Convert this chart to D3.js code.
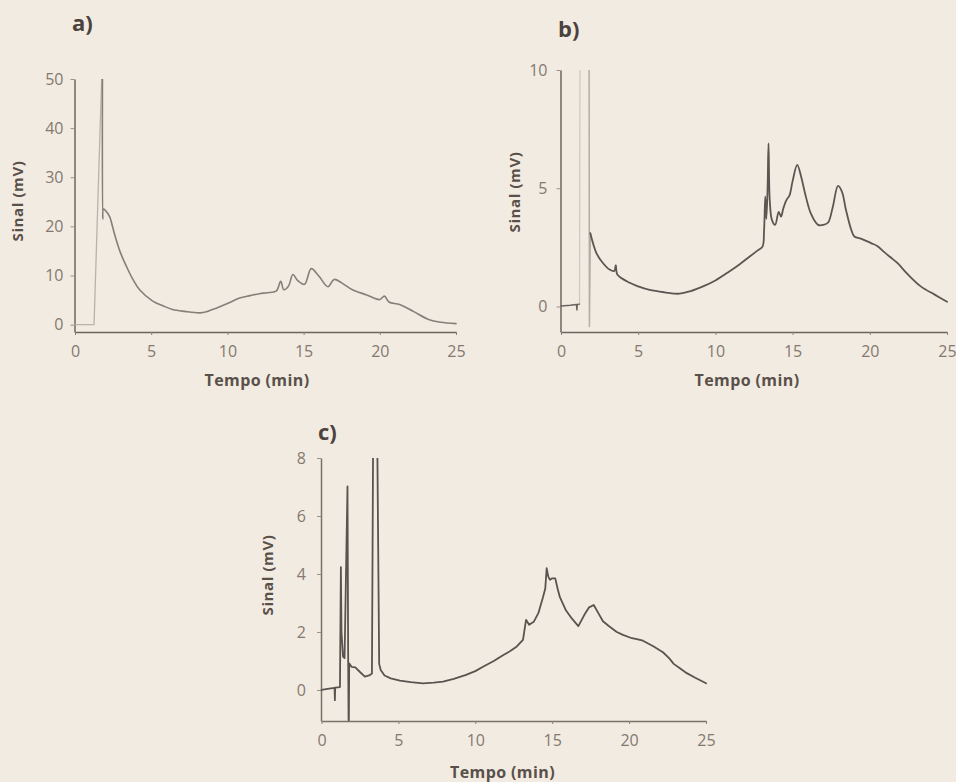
<!DOCTYPE html>
<html><head><meta charset="utf-8">
<script src="https://cdn.jsdelivr.net/npm/d3@7"></script>
<style>
html,body{margin:0;padding:0;background:#f2ebe1;}
svg{display:block;}
text{font-family:"Open Sans","Noto Sans",sans-serif;}
</style></head><body>
<svg id="chart" width="956" height="782"></svg>
<script>
// ---------- data ----------
const xTicks = [0, 5, 10, 15, 20, 25];
const aYTicks = [0, 10, 20, 30, 40, 50];
const bYTicks = [0, 5, 10];
const cYTicks = [0, 2, 4, 6, 8];

// panel a
const aSpikeTime   = [0, 1.25, 1.75];
const aSpikeSignal = [0, 0, 50];
const aTime   = [1.80, 1.82, 1.86, 2.0, 2.27, 2.5, 2.7, 3.0, 3.37, 3.8, 4.24, 5.1, 5.8, 6.4, 7.2, 8.2, 8.7, 9.3, 10.0, 10.8, 11.5, 12.1, 12.6, 13.2, 13.5, 13.7, 14.0, 14.3, 14.6, 15.06, 15.5, 16.0, 16.6, 17.0, 17.5, 18.2, 19.1, 20.0, 20.3, 20.6, 21.3, 22.2, 23.25, 24.0, 25.0];
const aSignal = [50, 21.5, 23.5, 23.2, 22.0, 19.5, 17.3, 14.5, 11.9, 9.2, 7.1, 4.8, 3.8, 3.1, 2.7, 2.4, 2.7, 3.4, 4.3, 5.4, 5.9, 6.3, 6.5, 6.8, 8.8, 7.1, 7.8, 10.2, 9.0, 8.2, 11.4, 9.9, 7.7, 9.2, 8.5, 7.1, 6.1, 5.1, 5.8, 4.6, 4.1, 2.7, 1.0, 0.5, 0.2];

// panel b
const bRiseTime   = [1.2, 1.23];
const bRiseSignal = [0.1, 10.5];
const bFallTime   = [1.82, 1.84, 1.9];
const bFallSignal = [10.5, -0.85, 3.1];
const bBaseTime   = [0, 0.6, 1.0, 1.03, 1.06, 1.2];
const bBaseSignal = [0.02, 0.05, 0.08, -0.15, 0.09, 0.1];
const bTime   = [1.9, 2.3, 2.7, 3.17, 3.45, 3.55, 3.65, 4.45, 5.0, 5.74, 6.7, 7.67, 8.4, 9.2, 10.0, 10.9, 11.6, 12.2, 12.7, 13.05, 13.15, 13.23, 13.3, 13.38, 13.44, 13.52, 13.66, 13.87, 14.1, 14.25, 14.4, 14.6, 14.8, 15.0, 15.3, 15.55, 15.8, 16.2, 16.65, 17.0, 17.3, 17.6, 17.94, 18.2, 18.45, 18.8, 19.0, 19.5, 20.08, 20.5, 20.9, 21.3, 21.8, 22.4, 23.3, 24.2, 25.0];
const bSignal = [3.1, 2.25, 1.85, 1.55, 1.5, 1.75, 1.35, 1.0, 0.85, 0.7, 0.6, 0.54, 0.65, 0.85, 1.1, 1.48, 1.8, 2.1, 2.35, 2.53, 3.2, 4.65, 3.7, 5.0, 6.9, 4.5, 3.66, 3.45, 4.0, 3.8, 4.15, 4.5, 4.7, 5.3, 5.99, 5.5, 4.8, 3.9, 3.45, 3.45, 3.55, 4.2, 5.1, 4.85, 4.1, 3.24, 2.96, 2.85, 2.68, 2.55, 2.32, 2.1, 1.83, 1.4, 0.85, 0.5, 0.2];

// panel c
const cTime   = [0, 0.5, 0.85, 0.87, 0.89, 1.2, 1.26, 1.3, 1.4, 1.5, 1.69, 1.73, 1.76, 1.78, 1.8, 1.95, 2.2, 2.5, 2.82, 3.1, 3.28, 3.36, 3.62, 3.75, 3.85, 4.1, 4.5, 5.1, 5.8, 6.6, 7.3, 7.9, 8.6, 9.4, 10.0, 10.5, 11.2, 11.8, 12.3, 12.7, 13.1, 13.3, 13.5, 13.8, 14.1, 14.4, 14.55, 14.64, 14.75, 14.86, 15.0, 15.2, 15.35, 15.5, 15.9, 16.3, 16.7, 17.1, 17.4, 17.7, 18.0, 18.3, 18.7, 19.2, 19.6, 20.1, 20.5, 20.9, 21.6, 22.2, 22.6, 22.9, 23.3, 23.75, 24.3, 25.0];
const cSignal = [0.0, 0.05, 0.07, -0.35, 0.08, 0.1, 4.24, 2.0, 1.15, 1.1, 7.02, 1.5, -1.04, -1.04, 0.92, 0.8, 0.78, 0.62, 0.46, 0.5, 0.57, 9, 9, 0.9, 0.69, 0.5, 0.4, 0.32, 0.27, 0.23, 0.25, 0.29, 0.38, 0.52, 0.65, 0.8, 1.0, 1.2, 1.35, 1.5, 1.73, 2.42, 2.25, 2.35, 2.65, 3.2, 3.5, 4.2, 3.9, 3.8, 3.85, 3.85, 3.5, 3.2, 2.74, 2.45, 2.2, 2.6, 2.85, 2.93, 2.65, 2.37, 2.2, 2.0, 1.9, 1.8, 1.75, 1.7, 1.5, 1.3, 1.1, 0.9, 0.75, 0.58, 0.42, 0.23];

// ---------- drawing ----------
const svg = d3.select("#chart");
svg.append("rect").attr("width", 956).attr("height", 782).attr("fill", "#f2ebe1");

const zip = (t, v) => t.map((d, i) => [d, v[i]]);
const smooth = d3.curveCatmullRom.alpha(0.5);

const panels = [
  { key: "a", label: "a)", lx: 72, ly: 31, x0: 75, x1: 456, yTop: 79, yBot: 332, yDom: [-1.5, 50], yTicks: aYTicks, pad: 7,
    yTitle: [17.5, 201], xTitle: [257, 386],
    traces: [
      { data: zip(aSpikeTime, aSpikeSignal), color: "#b9b2ab", w: 1.3, curve: d3.curveLinear },
      { data: zip(aTime, aSignal), color: "#867e79", w: 1.6, curve: smooth }
    ], axisColor: "#6d6460" },
  { key: "b", label: "b)", lx: 558, ly: 37, x0: 561, x1: 947, yTop: 70, yBot: 332, yDom: [-1.08, 10], yTicks: bYTicks, pad: 9,
    yTitle: [514.5, 192], xTitle: [747, 386],
    traces: [
      { data: zip(bRiseTime, bRiseSignal), color: "#cfc8c0", w: 1.2, curve: d3.curveLinear },
      { data: zip(bFallTime, bFallSignal), color: "#b4ada6", w: 1.5, curve: d3.curveLinear },
      { data: zip(bBaseTime, bBaseSignal), color: "#6a625e", w: 1.4, curve: d3.curveLinear },
      { data: zip(bTime, bSignal), color: "#5d5551", w: 1.8, curve: smooth }
    ], axisColor: "#6d6460" },
  { key: "c", label: "c)", lx: 318, ly: 440, x0: 321.5, x1: 706, yTop: 458, yBot: 721, yDom: [-1.07, 8], yTicks: cYTicks, pad: 11,
    yTitle: [268, 575], xTitle: [502.5, 778],
    traces: [
      { data: zip(cTime, cSignal), color: "#5a534f", w: 1.8, curve: d3.curveLinear }
    ], axisColor: "#7a716c" }
];

panels.forEach(p => {
  const g = svg.append("g");
  const x = d3.scaleLinear().domain([0, 25]).range([p.x0, p.x1]);
  const y = d3.scaleLinear().domain(p.yDom).range([p.yBot, p.yTop]);

  const clipId = "clip-" + p.key;
  svg.append("clipPath").attr("id", clipId).append("rect")
    .attr("x", p.x0 - 2).attr("y", p.yTop).attr("width", p.x1 - p.x0 + 4).attr("height", p.yBot - p.yTop);

  // y axis
  const ya = g.append("g").attr("transform", `translate(${p.x0 - 0.5},0)`)
    .call(d3.axisLeft(y).tickValues(p.yTicks).tickSize(4).tickSizeOuter(0).tickPadding(p.pad));
  ya.select(".domain").attr("stroke", p.axisColor).attr("stroke-width", 1.5);
  ya.selectAll(".tick line").attr("stroke", "#9a9089").attr("stroke-width", 1);
  ya.selectAll(".tick text").attr("fill", "#847970").attr("font-size", 16)
    .attr("font-family", '"Open Sans","Noto Sans",sans-serif');

  // x axis
  const xa = g.append("g").attr("transform", `translate(0,${p.yBot})`)
    .call(d3.axisBottom(x).tickValues(xTicks).tickSize(3).tickSizeOuter(0).tickPadding(11));
  xa.select(".domain").attr("stroke", p.axisColor).attr("stroke-width", 1.5);
  xa.selectAll(".tick line").attr("stroke", "#8a8079").attr("stroke-width", 1);
  xa.selectAll(".tick text").attr("fill", "#847970").attr("font-size", 16)
    .attr("font-family", '"Open Sans","Noto Sans",sans-serif');

  // traces
  const tg = g.append("g").attr("clip-path", `url(#${clipId})`);
  p.traces.forEach(t => {
    const line = d3.line().x(d => x(d[0])).y(d => y(d[1])).curve(t.curve);
    tg.append("path").datum(t.data).attr("d", line)
      .attr("fill", "none").attr("stroke", t.color).attr("stroke-width", t.w)
      .attr("stroke-linejoin", "round").attr("stroke-linecap", "round");
  });

  // titles
  g.append("text").attr("transform", `translate(${p.yTitle[0]},${p.yTitle[1]}) rotate(-90)`)
    .attr("text-anchor", "middle").attr("dy", "0.35em")
    .attr("font-size", 15).attr("font-weight", 700).attr("letter-spacing", "0.6px")
    .attr("fill", "#5a504a").text("Sinal (mV)");
  g.append("text").attr("x", p.xTitle[0]).attr("y", p.xTitle[1])
    .attr("text-anchor", "middle").attr("font-size", 16).attr("font-weight", 700).attr("letter-spacing", "0.4px")
    .attr("fill", "#5a504a").text("Tempo (min)");
  g.append("text").attr("x", p.lx).attr("y", p.ly)
    .attr("font-size", 22).attr("font-weight", 700).attr("fill", "#4c423d").text(p.label);
});
</script>
</body></html>
